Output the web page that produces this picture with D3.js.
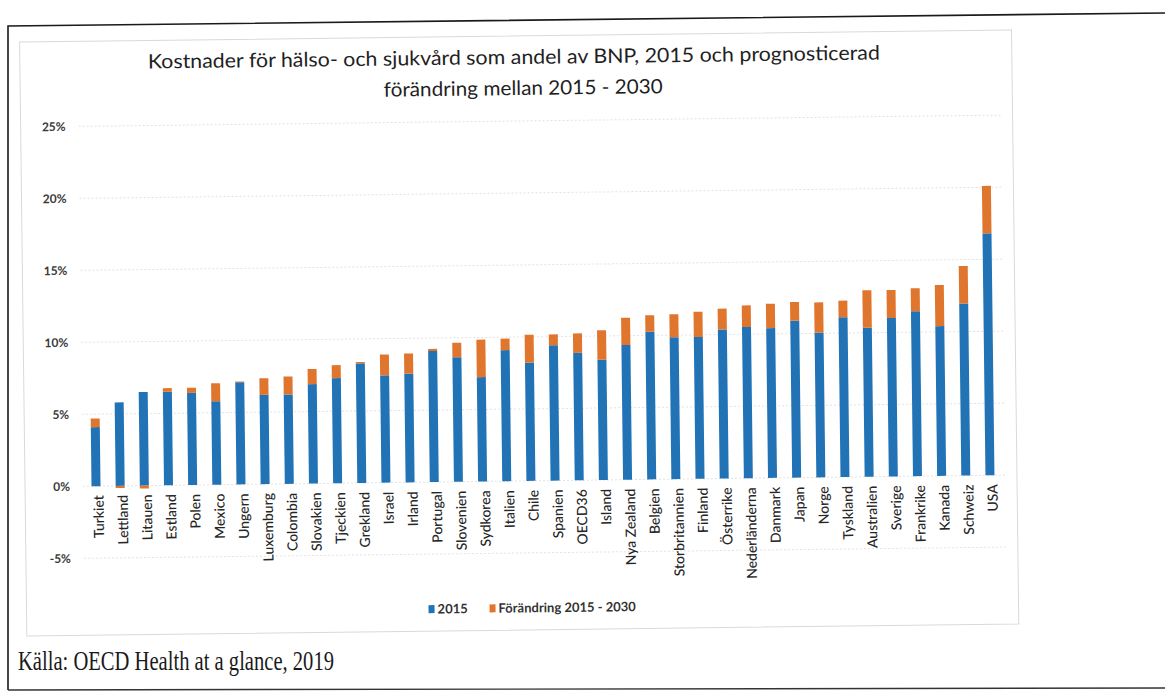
<!DOCTYPE html>
<html>
<head>
<meta charset="utf-8">
<script src="https://cdn.jsdelivr.net/npm/d3@7"></script>
<style>
  body { margin: 0; background: #fff; }
  svg { display: block; }
</style>
</head>
<body>
<svg id="chart" width="1165" height="698"></svg>
<script>
// values (share of GDP, %)
var countries = ["Turkiet", "Lettland", "Litauen", "Estland", "Polen", "Mexico", "Ungern",
  "Luxemburg", "Colombia", "Slovakien", "Tjeckien", "Grekland", "Israel", "Irland",
  "Portugal", "Slovenien", "Sydkorea", "Italien", "Chile", "Spanien", "OECD36", "Island",
  "Nya Zealand", "Belgien", "Storbritannien", "Finland", "Österrike", "Nederländerna",
  "Danmark", "Japan", "Norge", "Tyskland", "Australien", "Sverige", "Frankrike", "Kanada",
  "Schweiz", "USA"];
var share2015 = [4.1, 5.8, 6.5, 6.5, 6.4, 5.8, 7.1, 6.2, 6.2, 6.9, 7.3, 8.3, 7.45, 7.55,
  9.1, 8.65, 7.25, 9.1, 8.2, 9.4, 8.85, 8.35, 9.35, 10.25, 9.85, 9.85, 10.35, 10.5,
  10.4, 10.9, 10.05, 11.1, 10.35, 11.0, 11.45, 10.4, 11.95, 16.8];
var change = [0.6, -0.15, -0.2, 0.25, 0.35, 1.25, 0.05, 1.15, 1.25, 1.05, 0.9, 0.1, 1.45, 1.4,
  0.15, 1.0, 2.6, 0.8, 1.95, 0.75, 1.35, 2.05, 1.9, 1.15, 1.6, 1.75, 1.45, 1.5,
  1.7, 1.3, 2.1, 1.15, 2.6, 1.95, 1.6, 2.85, 2.6, 3.3];
var seriesNames = ["2015", "Förändring 2015 - 2030"];
var yTicks = [-5, 0, 5, 10, 15, 20, 25];

var blue = "#2272b6", orange = "#e0762e";
var svg = d3.select("#chart");

// scanned page frame
svg.append("path")
  .attr("d", "M8,690 L8,26 L1165,13")
  .attr("fill", "none").attr("stroke", "#1a1a1a").attr("stroke-width", 1.6);
svg.append("path")
  .attr("d", "M8,690 L1165,688")
  .attr("fill", "none").attr("stroke", "#333").attr("stroke-width", 1.4);

// the scan is a bit tilted
var g = svg.append("g").attr("transform", "rotate(-0.7,520,400)");

g.append("rect")
  .attr("x", 24).attr("y", 36).attr("width", 992).attr("height", 594)
  .attr("fill", "none").attr("stroke", "#d6d9e0");

var x = d3.scalePoint().domain(countries).range([95, 989]);
var y = d3.scaleLinear().domain([-5, 25]).range([553, 121]);
var barW = 9;

// gridlines
g.selectAll(".grid").data(yTicks).enter().append("line")
  .attr("x1", 82).attr("x2", 1004)
  .attr("y1", function(d) { return y(d); }).attr("y2", function(d) { return y(d); })
  .attr("stroke", "#e2e2e2").attr("stroke-dasharray", "2,2");

// y axis labels
var yAxis = d3.axisLeft(y).tickValues(yTicks).tickSize(0).tickPadding(0)
  .tickFormat(function(d) { return d + "%"; });
var ya = g.append("g").attr("transform", "translate(69,0)").call(yAxis);
ya.select(".domain").remove();
ya.selectAll("text")
  .style("font-family", "Lato, 'Open Sans', sans-serif")
  .style("font-size", "12px").style("font-weight", "bold").attr("fill", "#3a3a3a");

// stacked bars
var rows = countries.map(function(c, i) { return {name: c, a: share2015[i], b: change[i]}; });
var stack = d3.stack().keys(["a", "b"]).offset(d3.stackOffsetDiverging);
var layers = stack(rows);
var colors = [blue, orange];

g.selectAll(".layer").data(layers).enter().append("g")
  .attr("fill", function(d, i) { return colors[i]; })
  .selectAll("rect").data(function(d) { return d; }).enter().append("rect")
  .attr("x", function(d) { return x(d.data.name) - barW / 2; })
  .attr("width", barW)
  .attr("y", function(d) { return y(Math.max(d[0], d[1])); })
  .attr("height", function(d) { return Math.abs(y(d[0]) - y(d[1])); });

// category labels
var xAxis = d3.axisBottom(x).tickSize(0).tickPadding(0);
var xa = g.append("g").attr("transform", "translate(2,490)").call(xAxis);
xa.select(".domain").remove();
xa.selectAll("text")
  .style("font-family", "Lato, 'Open Sans', sans-serif")
  .style("font-size", "14px").style("font-weight", "500").attr("fill", "#262626")
  .attr("text-anchor", "end")
  .attr("transform", "rotate(-90)")
  .attr("x", 0).attr("y", 0).attr("dx", 0).attr("dy", "0.35em");

// title
var title = g.append("g").style("font-family", "Lato, 'Open Sans', sans-serif")
  .style("font-size", "20px").attr("fill", "#1f1f1f");
title.append("text").attr("x", 518).attr("y", 64).attr("text-anchor", "middle")
  .attr("textLength", 732).attr("lengthAdjust", "spacingAndGlyphs")
  .text("Kostnader för hälso- och sjukvård som andel av BNP, 2015 och prognosticerad");
title.append("text").attr("x", 527).attr("y", 95).attr("text-anchor", "middle")
  .attr("textLength", 279).attr("lengthAdjust", "spacingAndGlyphs")
  .text("förändring mellan 2015 - 2030");

// legend
var legend = g.append("g").attr("transform", "translate(426,608)")
  .style("font-family", "Lato, 'Open Sans', sans-serif").style("font-size", "13px")
  .style("font-weight", "bold");
var legX = [0, 61];
seriesNames.forEach(function(s, i) {
  legend.append("rect").attr("x", legX[i]).attr("y", -4).attr("width", 6).attr("height", 8)
    .attr("fill", colors[i]);
  legend.append("text").attr("x", legX[i] + 9).attr("y", 4.5).attr("fill", "#333").text(s);
});

// source
svg.append("text").attr("x", 18).attr("y", 670)
  .style("font-family", "'Liberation Serif', 'DejaVu Serif', serif").style("font-size", "27px")
  .attr("fill", "#1a1a1a")
  .attr("textLength", 316).attr("lengthAdjust", "spacingAndGlyphs")
  .text("Källa: OECD Health at a glance, 2019");
</script>
</body>
</html>
